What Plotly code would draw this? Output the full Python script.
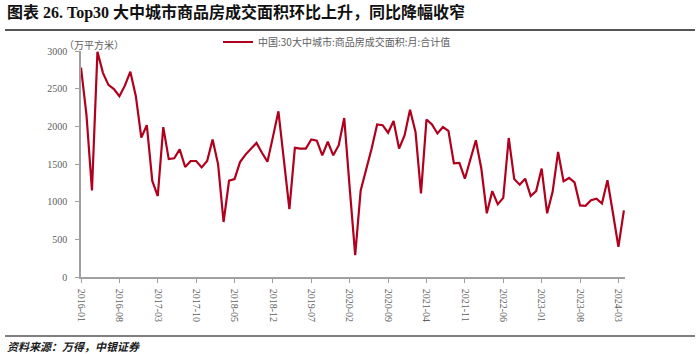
import plotly.graph_objects as go
import pandas as pd

months = [d.strftime("%Y-%m") for d in pd.date_range("2016-01-01", "2024-04-01", freq="MS")]
values = [
    2780, 2150, 1150, 2990, 2710, 2550, 2495, 2400, 2540, 2725,
    2400, 1850, 2015, 1275, 1075, 1990, 1565, 1575, 1695, 1460,
    1540, 1540, 1455, 1540, 1825, 1495, 730, 1280, 1300, 1525,
    1625, 1705, 1780, 1650, 1530, 1860, 2200, 1550, 900, 1715,
    1705, 1705, 1825, 1810, 1615, 1795, 1615, 1750, 2110, 1180,
    290, 1150, 1415, 1705, 2025, 2015, 1915, 2070, 1705, 1880,
    2220, 1925, 1110, 2090, 2025, 1905, 1990, 1940, 1510, 1515,
    1305, 1570, 1815, 1440, 845, 1140, 965, 1050, 1845, 1300,
    1225, 1305, 1075, 1140, 1440, 845, 1130, 1660, 1270, 1315,
    1255, 950, 945, 1020, 1040, 975, 1285, 850, 400, 885,
]
tick_labels = months[::7]
y_ticks = [0, 500, 1000, 1500, 2000, 2500, 3000]
series_name = "中国:30大中城市:商品房成交面积:月:合计值"
title_text = "图表 26. Top30 大中城市商品房成交面积环比上升，同比降幅收窄"
unit_text = "（万平方米）"
source_text = "资料来源：万得，中银证券"

L, R, T, B = 81, 75, 51, 78
W, H = 700, 355
pw, ph = W - L - R, H - T - B

def px(x):
    return (x - L) / pw

def py(y):
    return (H - B - y) / ph

fig = go.Figure()
fig.add_trace(go.Scatter(
    x=months, y=values, mode="lines", name=series_name,
    line=dict(color="#B0001E", width=2.2),
))

axis_col = "#A0A0A0"
tick_font = dict(family="Liberation Serif, Noto Sans CJK SC", size=10, color="#606060")
fig.update_layout(
    width=W, height=H,
    margin=dict(l=L, r=R, t=T, b=B),
    paper_bgcolor="white", plot_bgcolor="white",
    showlegend=True,
    legend=dict(
        orientation="h", x=px(218), y=py(42), xanchor="left", yanchor="middle",
        font=dict(family="Noto Sans CJK SC", size=10, color="#606060"),
        bgcolor="rgba(0,0,0,0)", itemwidth=30,
    ),
    xaxis=dict(
        type="category", range=[0, 99.2],
        tickmode="array", tickvals=tick_labels, ticktext=tick_labels,
        tickangle=90, tickfont=tick_font, ticklabelstandoff=4,
        showline=True, linecolor=axis_col, linewidth=1.5,
        ticks="outside", ticklen=4, tickcolor=axis_col,
        showgrid=False, zeroline=False,
    ),
    yaxis=dict(
        range=[0, 3000], tickvals=y_ticks, tickfont=tick_font,
        ticklabelstandoff=6,
        showline=True, linecolor=axis_col, linewidth=1.5,
        ticks="outside", ticklen=4, tickcolor=axis_col,
        showgrid=False, zeroline=False,
    ),
)

fig.add_annotation(
    text="<b>" + title_text + "</b>", xref="paper", yref="paper",
    x=px(5), y=py(13), xanchor="left", yanchor="middle", showarrow=False,
    font=dict(family="Liberation Serif, Noto Sans CJK SC", size=16, color="#111111"),
)
fig.add_annotation(
    text=unit_text, xref="paper", yref="paper",
    x=px(62), y=py(45), xanchor="left", yanchor="middle", showarrow=False,
    font=dict(family="Noto Sans CJK SC", size=10, color="#606060"),
)
fig.add_annotation(
    text="<b><i>" + source_text + "</i></b>", xref="paper", yref="paper",
    x=px(5), y=py(346), xanchor="left", yanchor="middle", showarrow=False,
    font=dict(family="Noto Sans CJK SC", size=11, color="#1a1a1a"),
)
fig.add_shape(type="line", xref="paper", yref="paper",
              x0=px(5), x1=px(695), y0=py(30), y1=py(30),
              line=dict(color="#555555", width=2))
fig.add_shape(type="line", xref="paper", yref="paper",
              x0=px(5), x1=px(695), y0=py(336), y1=py(336),
              line=dict(color="#555555", width=1.5))

fig.write_html("out.html", config={"displayModeBar": False},
               post_script="document.body.style.margin='0';")
